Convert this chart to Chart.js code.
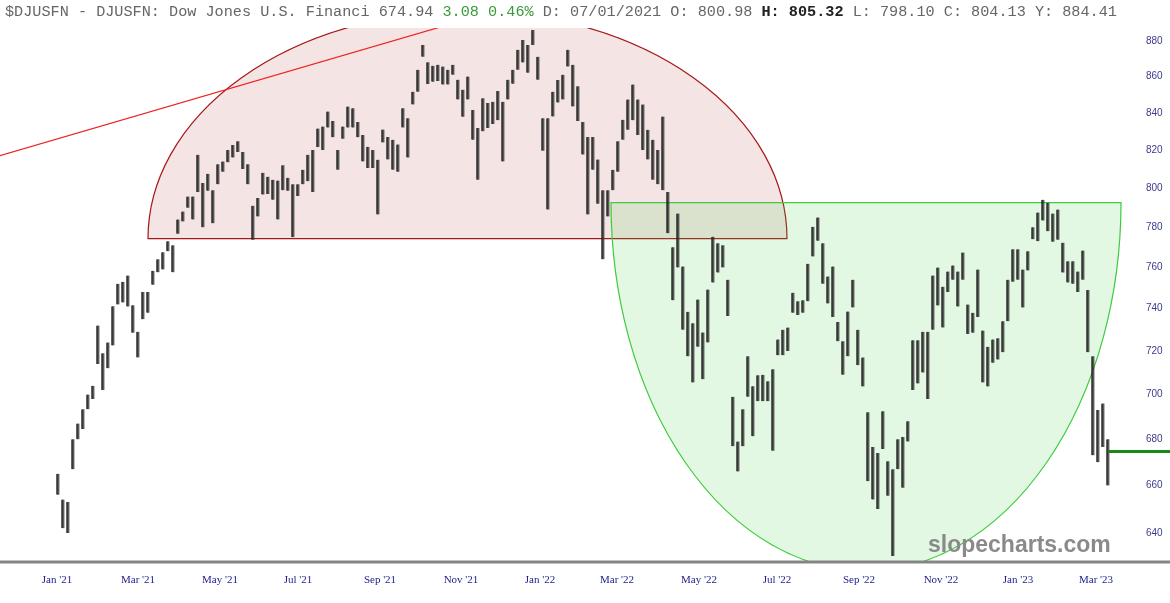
<!DOCTYPE html>
<html>
<head>
<meta charset="utf-8">
<script src="https://cdn.jsdelivr.net/npm/chart.js@4.4.1/dist/chart.umd.min.js"></script>
<style>
  html, body { margin: 0; padding: 0; background: #fff; }
  #wrap { position: relative; width: 1170px; height: 603px; overflow: hidden; }
  #hdr {
    position: absolute; left: 5px; top: 3px; white-space: pre;
    font-family: 'Liberation Mono', 'DejaVu Sans Mono', monospace;
    font-size: 15.2px; color: #666;
  }
  #hdr .g { color: #3a9a3a; }
  #hdr b { color: #222; }
  #mark {
    position: absolute; left: 928px; top: 531px;
    font-family: 'Liberation Sans', Arial, sans-serif; font-weight: bold;
    font-size: 23px; color: #8a8a8a;
  }
</style>
</head>
<body>
<div id="wrap">
  <canvas id="chart" width="1170" height="603"></canvas>
  <div id="hdr">$DJUSFN - DJUSFN: Dow Jones U.S. Financi 674.94 <span class="g">3.08 0.46%</span> D: 07/01/2021 O: 800.98 <b>H: 805.32</b> L: 798.10 C: 804.13 Y: 884.41</div>
  <div id="mark">slopecharts.com</div>
</div>
<script>
// bar lows / highs (one bar every ~2.6 sessions)
const lows = [
  656, 642, 640, 667, 680, 684.5, 693.4, 698, 714, 702,
  712, 722.6, 742, 743, 741, 728.6, 717, 735, 738, 751.5,
  757.6, 759, 768, 757.6, 776.8, 783, 790, 784, 798, 780,
  798.7, 782, 802, 808.5, 813.5, 816, 819, 810, 802, 773.8,
  785.5, 796.7, 797, 794, 784, 799, 798.7, 775, 796, 802,
  803.6, 798, 821.6, 820, 832, 826.8, 809.6, 826, 832, 832,
  826.8, 814, 810.5, 810.5, 786.5, 824, 815, 809.6, 808.5, 832,
  816, 844.6, 851.6, 871, 855.8, 857, 857.5, 855.5, 855.5, 861,
  847.3, 837.8, 847.3, 825.5, 804.4, 830, 831.8, 834, 836, 814,
  847.3, 856, 863.7, 867.8, 862, 877.7, 858.2, 819.6, 789, 838,
  845.6, 847.3, 865.5, 843.5, 835.6, 817.6, 786.5, 809.6, 792, 764,
  785.5, 799, 808.5, 825.5, 830.8, 836, 828, 820, 815, 804.4,
  802, 799, 777, 744, 760, 730, 717.5, 705.5, 722, 707,
  724, 752.6, 757.5, 760, 736.5, 677, 666, 677, 699, 681.4,
  697, 697, 697, 675, 718, 718, 720, 738, 737, 738,
  743.5, 765.4, 773.3, 752, 742.5, 736, 724.5, 709, 717.5, 740.6,
  713.4, 703.7, 661.8, 654, 650, 675.8, 655.6, 630.5, 667, 659,
  679, 702, 705, 710, 698, 730, 741.5, 731, 748, 754,
  741, 754, 728, 728.6, 736, 705.5, 703.7, 714.5, 716, 719.4,
  734, 753, 754, 740.5, 758.5, 774, 773, 783.4, 778, 772.8,
  773.8, 757.5, 752.6, 752, 748, 754, 719.4, 673, 670, 676.6,
  660
];
const highs = [
  665, 654, 653, 680, 687, 693.4, 700, 704, 732, 719,
  724, 741.2, 752, 753, 756, 741.6, 729, 748, 748, 758.4,
  764, 767.5, 773, 771, 784, 788, 795.7, 795.7, 817.5, 802.7,
  807.5, 799, 812.5, 814, 820, 822.7, 824.7, 819, 812.5, 791,
  795, 808, 806, 804.4, 804, 812, 805.4, 802, 802, 809.6,
  817.5, 820, 831.5, 832.6, 840.7, 835.6, 820, 832.6, 843.4, 842.5,
  835, 828, 821.7, 820, 814.9, 831, 827, 825.5, 823, 842.5,
  837, 851.6, 863.7, 877.7, 868, 866, 866.5, 865.5, 863.7, 866.5,
  858.2, 852.7, 860, 841.6, 831.8, 848, 845.4, 846, 852, 846,
  858.2, 863.7, 875, 880.6, 877.7, 886.3, 871, 837, 837, 851.6,
  858, 861, 875, 866.5, 854.5, 835, 827, 827, 815, 799,
  799, 809.6, 824.7, 836.2, 847.3, 855.5, 847.3, 844.6, 830.8, 825.5,
  820, 838, 798, 770, 787, 760.5, 738.5, 733, 744.4, 728.7,
  749.2, 775.3, 772, 771, 754, 699, 679, 693.4, 717.5, 703.8,
  708.8, 709, 706, 711.5, 725.4, 730, 731, 747.7, 743.5, 744,
  761.8, 780.3, 785, 772, 755.6, 760.5, 733.6, 724.5, 738.6, 754,
  730, 717, 692, 676.6, 674, 692.5, 670.4, 667, 680, 681,
  688, 725, 725, 729, 729, 756, 760, 750.6, 758, 761,
  758, 767.4, 742, 738, 759, 729.6, 722, 725.4, 726, 734,
  754, 769, 769, 759, 768, 780, 787.5, 794, 792.5, 787,
  789, 772.3, 763, 763, 758, 768.4, 749, 717.5, 693, 696,
  680
];
const lastClose = 674.94;

// x tick labels and where they sit, in bar-index units
const tickLabels = ["Jan '21", "Mar '21", "May '21", "Jul '21", "Sep '21", "Nov '21", "Jan '22",
                    "Mar '22", "May '22", "Jul '22", "Sep '22", "Nov '22", "Jan '23", "Mar '23"];
const tickPos = [-0.2, 16, 32.4, 48, 64.4, 80.6, 96.4, 111.8, 128.2, 143.8, 160.2, 176.6, 192, 207.6];
const priceTicks = [640, 660, 680, 700, 720, 740, 760, 780, 800, 820, 840, 860, 880];

// user drawings (index units / price)
const redDome = { from: 18, to: 145.8, base: 774.3, top: 897.2 };
const greenBowl = { from: 110.6, to: 212.6, base: 792.6, bottom: 624.5 };
const redLine = [[-11.6, 817.0], [75.8, 887.4]];

const drawings = {
  id: 'drawings',
  beforeDatasetsDraw(chart) {
    const { ctx, chartArea: a, scales: { x, y } } = chart;
    ctx.save();
    ctx.beginPath();
    ctx.rect(a.left, a.top, a.right - a.left, a.bottom - a.top);
    ctx.clip();

    // red half ellipse
    let l = x.getPixelForValue(redDome.from), r = x.getPixelForValue(redDome.to);
    let b = y.getPixelForValue(redDome.base), t = y.getPixelForValue(redDome.top);
    ctx.beginPath();
    ctx.ellipse((l + r) / 2, b, (r - l) / 2, b - t, 0, Math.PI, 2 * Math.PI);
    ctx.closePath();
    ctx.fillStyle = 'rgba(188,75,75,0.15)';
    ctx.fill();
    ctx.strokeStyle = '#a51818';
    ctx.lineWidth = 1.2;
    ctx.stroke();

    // green half ellipse
    l = x.getPixelForValue(greenBowl.from); r = x.getPixelForValue(greenBowl.to);
    b = y.getPixelForValue(greenBowl.base); t = y.getPixelForValue(greenBowl.bottom);
    ctx.beginPath();
    ctx.ellipse((l + r) / 2, b, (r - l) / 2, t - b, 0, 0, Math.PI);
    ctx.closePath();
    ctx.fillStyle = 'rgba(68,208,68,0.15)';
    ctx.fill();
    ctx.strokeStyle = '#3ccc3c';
    ctx.lineWidth = 1.2;
    ctx.stroke();

    // red trend line
    const x1 = x.getPixelForValue(redLine[0][0]), y1 = y.getPixelForValue(redLine[0][1]);
    const x2 = x.getPixelForValue(redLine[1][0]), y2 = y.getPixelForValue(redLine[1][1]);
    ctx.beginPath();
    ctx.moveTo(x1 - (x2 - x1), y1 - (y2 - y1));
    ctx.lineTo(x2 + (x2 - x1), y2 + (y2 - y1));
    ctx.strokeStyle = '#ee2222';
    ctx.lineWidth = 1.2;
    ctx.stroke();
    ctx.restore();
  },
  afterDatasetsDraw(chart) {
    const { ctx, chartArea: a, scales: { x, y } } = chart;
    ctx.save();
    // last close marker
    const cy = Math.round(y.getPixelForValue(lastClose)) + 0.5;
    ctx.beginPath();
    ctx.moveTo(x.getPixelForValue(lows.length - 1), cy);
    ctx.lineTo(chart.width, cy);
    ctx.strokeStyle = '#168a16';
    ctx.lineWidth = 3;
    ctx.stroke();
    // bottom axis line, full width
    ctx.beginPath();
    ctx.moveTo(0, a.bottom + 1);
    ctx.lineTo(chart.width, a.bottom + 1);
    ctx.strokeStyle = '#858585';
    ctx.lineWidth = 3;
    ctx.stroke();
    ctx.restore();
  }
};

new Chart(document.getElementById('chart'), {
  type: 'bar',
  data: {
    datasets: [{
      data: lows.map((lo, i) => ({ x: i, y: [lo, highs[i]] })),
      backgroundColor: 'rgba(50,50,50,0.8)',
      borderColor: '#1e1e1e',
      borderWidth: { left: 1, right: 0, top: 0, bottom: 0 },
      borderSkipped: false,
      barThickness: 3,
      grouped: false
    }]
  },
  options: {
    responsive: false,
    animation: false,
    devicePixelRatio: 1,
    layout: { padding: { top: 28, left: 0, right: 0, bottom: 0 } },
    plugins: { legend: { display: false }, tooltip: { enabled: false } },
    scales: {
      x: {
        type: 'linear',
        min: -11.6,
        max: 216.4,
        offset: false,
        grid: { display: false, drawTicks: false },
        border: { display: false },
        afterFit: s => { s.height = 42; },
        afterBuildTicks: s => { s.ticks = tickPos.map(v => ({ value: v })); },
        ticks: {
          autoSkip: false,
          maxRotation: 0,
          padding: 13,
          color: '#1c1c8e',
          font: { family: "'Liberation Serif', 'Times New Roman', serif", size: 11 },
          callback: (v, i) => tickLabels[i]
        }
      },
      y: {
        type: 'logarithmic',
        position: 'right',
        min: 628.5,
        max: 887.4,
        grid: { display: false, drawTicks: false },
        border: { display: false },
        afterFit: s => { s.width = 30; },
        afterBuildTicks: s => { s.ticks = priceTicks.map(v => ({ value: v })); },
        ticks: {
          padding: 6,
          color: '#3c3c8c',
          font: { family: "'Liberation Sans', Arial, sans-serif", size: 10 },
          callback: v => String(v)
        }
      }
    }
  },
  plugins: [drawings]
});
</script>
</body>
</html>
